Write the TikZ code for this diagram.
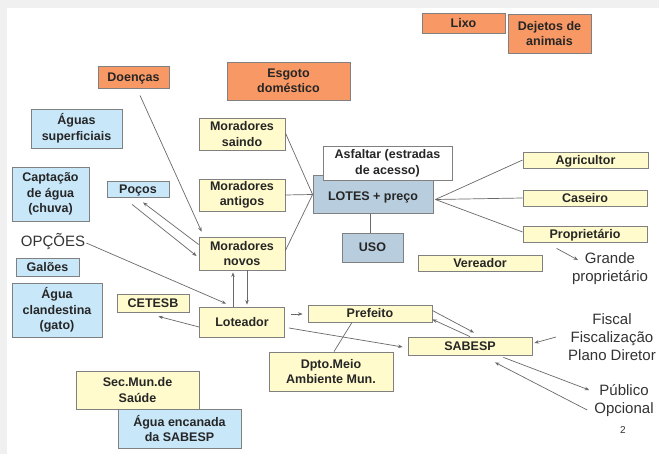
\documentclass[tikz,border=0pt]{standalone}
\usepackage{fontspec}
\setmainfont{Liberation Sans}
\usetikzlibrary{arrows.meta,calc}
\definecolor{bgray}{RGB}{240,240,240}
\definecolor{orangebox}{RGB}{248,152,100}
\definecolor{bluebox}{RGB}{200,232,250}
\definecolor{yellowbox}{RGB}{255,251,204}
\definecolor{steelbox}{RGB}{184,206,222}
\definecolor{edgegray}{RGB}{128,128,128}
\definecolor{linegray}{RGB}{105,105,105}
\newcommand\oneline[2][4.5pt]{\raisebox{-#1}[0pt][0pt]{#2}}
\begin{document}
\begin{tikzpicture}[x=1pt,y=-1pt,
  box/.style={draw=edgegray,line width=0.8pt,inner sep=0pt,align=center,
    font=\fontsize{12.5}{15.5}\selectfont\bfseries,text=black!85},
  sz/.style n args={2}{minimum width=#1pt,minimum height=#2pt},
  obox/.style={box,fill=orangebox},
  bbox/.style={box,fill=bluebox},
  ybox/.style={box,fill=yellowbox},
  sbox/.style={box,fill=steelbox},
  wbox/.style={box,fill=white},
  plain/.style={inner sep=0pt,align=center,font=\fontsize{15}{18}\selectfont,text=black!80},
  conn/.style={draw=linegray,line width=0.7pt},
  arr/.style={conn,-{Stealth[length=4.5pt,width=3.5pt]}}
]
\useasboundingbox (0,0) rectangle (659,454);
\fill[bgray] (0,0) rectangle (659,454);
\fill[white] (7,8) rectangle (659,454);

% boxes
\node[obox,sz={83}{20}] (lixo) at (463.5,23) {\oneline{Lixo}};
\node[obox,sz={83}{39}] (dejetos) at (549.5,33.5) {Dejetos de\\animais};
\node[obox,sz={71}{22}] (doencas) at (133.5,77) {\oneline{Doenças}};
\node[obox,sz={123}{38}] (esgoto) at (288.5,81) {Esgoto\\doméstico};
\node[bbox,sz={91}{39}] (aguasup) at (76.5,128.5) {Águas\\superficiais};
\node[bbox,sz={77}{54}] (captacao) at (50.5,194) {Captação\\de água\\(chuva)};
\node[bbox,sz={62}{16}] (pocos) at (138,189) {\oneline{Poços}};
\node[ybox,sz={86}{32}] (msaindo) at (242,134) {Moradores\\saindo};
\node[ybox,sz={86}{32}] (mantigos) at (242,195) {Moradores\\antigos};
\node[ybox,sz={86}{33}] (mnovos) at (242,253.5) {Moradores\\novos};
\node[sbox,sz={120}{38}] (lotes) at (373,194.5) {\oneline[6.5pt]{LOTES + preço}};
\node[wbox,sz={129}{34}] (asfaltar) at (387.5,163.5) {Asfaltar (estradas\\de acesso)};
\node[sbox,sz={61}{29}] (uso) at (372.5,247.5) {\oneline{USO}};
\node[ybox,sz={125}{16}] (agricultor) at (585.5,160) {\oneline{Agricultor}};
\node[ybox,sz={124}{16}] (caseiro) at (585,198) {\oneline{Caseiro}};
\node[ybox,sz={124}{16}] (proprietario) at (585,234) {\oneline{Proprietário}};
\node[ybox,sz={124}{16}] (vereador) at (480,263) {\oneline{Vereador}};
\node[bbox,sz={63}{18}] (galoes) at (47.5,267) {\oneline{Galões}};
\node[bbox,sz={90}{54}] (clandestina) at (57,310) {Água\\clandestina\\(gato)};
\node[ybox,sz={72}{18}] (cetesb) at (153,303) {\oneline{CETESB}};
\node[ybox,sz={85}{30}] (loteador) at (242,322) {\oneline{Loteador}};
\node[ybox,sz={124}{17}] (prefeito) at (370,313.5) {\oneline{Prefeito}};
\node[ybox,sz={124}{18}] (sabesp) at (470,346) {\oneline{SABESP}};
\node[ybox,sz={124}{39}] (dpto) at (331,371.5) {Dpto.Meio\\Ambiente Mun.};
\node[ybox,sz={123}{38}] (secmun) at (137.5,390) {Sec.Mun.de\\Saúde};
\node[bbox,sz={123}{39}] (aguaenc) at (179.5,428.5) {Água encanada\\da SABESP};

% plain texts
\node[plain] (opcoes) at (53,242) {OPÇÕES};
\node[plain] (grande) at (610,269) {Grande\\proprietário};
\node[plain] (fiscal) at (612,337) {Fiscal\\Fiscalização\\Plano Diretor};
\node[plain] (publico) at (624,400.5) {Público\\Opcional};
\node[plain,font=\fontsize{10}{12}\selectfont] (num) at (623,430) {2};

% connectors
\draw[arr] ($(doencas.south)+(6.5,7)$) -- ($(mnovos.north west)+(3,-5)$);
\draw[arr] ($(mnovos.west)+(0,-9)$) -- ($(pocos.south)+(5,5)$);
\draw[arr] ($(pocos.south)+(-6,7)$) -- ($(mnovos.west)+(-2,2.5)$);
\draw[arr] ($(opcoes.east)+(1,1)$) -- ($(loteador.north west)+(27,-3)$);
\draw[arr] ($(mnovos.south)+(5,0)$) -- ($(loteador.north)+(5,-2)$);
\draw[arr] ($(loteador.north)+(-9,0)$) -- ($(mnovos.south)+(-9,2)$);
\draw[arr] ($(loteador.west)+(0,5)$) -- ($(cetesb.south east)+(-31,4)$);
\draw[arr] ($(loteador.east)+(6,-8)$) -- ($(prefeito.west)+(-5,0.5)$);
\draw[arr] ($(loteador.east)+(4,6)$) -- ($(sabesp.west)+(-5,1)$);
\draw[conn] ($(prefeito.south)+(-18,0)$) -- ($(dpto.north)+(3,0)$);
\draw[arr] ($(prefeito.east)+(0,-3)$) -- ($(sabesp.north)+(4,-4)$);
\draw[arr] (sabesp.north) -- ($(prefeito.south east)+(0,-3)$);
\draw[arr] ($(fiscal.west)+(-12,0)$) -- ($(sabesp.east)+(2,-3)$);
\draw[arr] ($(sabesp.south east)+(-29,2)$) -- ($(publico.west)+(-5,-10.5)$);
\draw[arr] ($(publico.west)+(-7,9.5)$) -- ($(sabesp.south)+(25,7)$);
\draw[arr] ($(proprietario.south west)+(34,6)$) -- ($(grande.center)+(-32,-9)$);
\draw[conn] ($(msaindo.east)+(0,-1)$) -- (lotes.west);
\draw[conn] (mantigos.east) -- (lotes.west);
\draw[conn] ($(mnovos.east)+(0,-3)$) -- (lotes.west);
\draw[conn] ($(lotes.east)+(2,5)$) -- (agricultor.west);
\draw[conn] ($(lotes.east)+(2,5)$) -- (caseiro.west);
\draw[conn] ($(lotes.east)+(2,5)$) -- ($(proprietario.west)+(0,-2)$);
\draw[conn] ($(lotes.south)+(-3,0)$) -- ($(uso.north)+(-2.5,0)$);
\end{tikzpicture}
\end{document}
